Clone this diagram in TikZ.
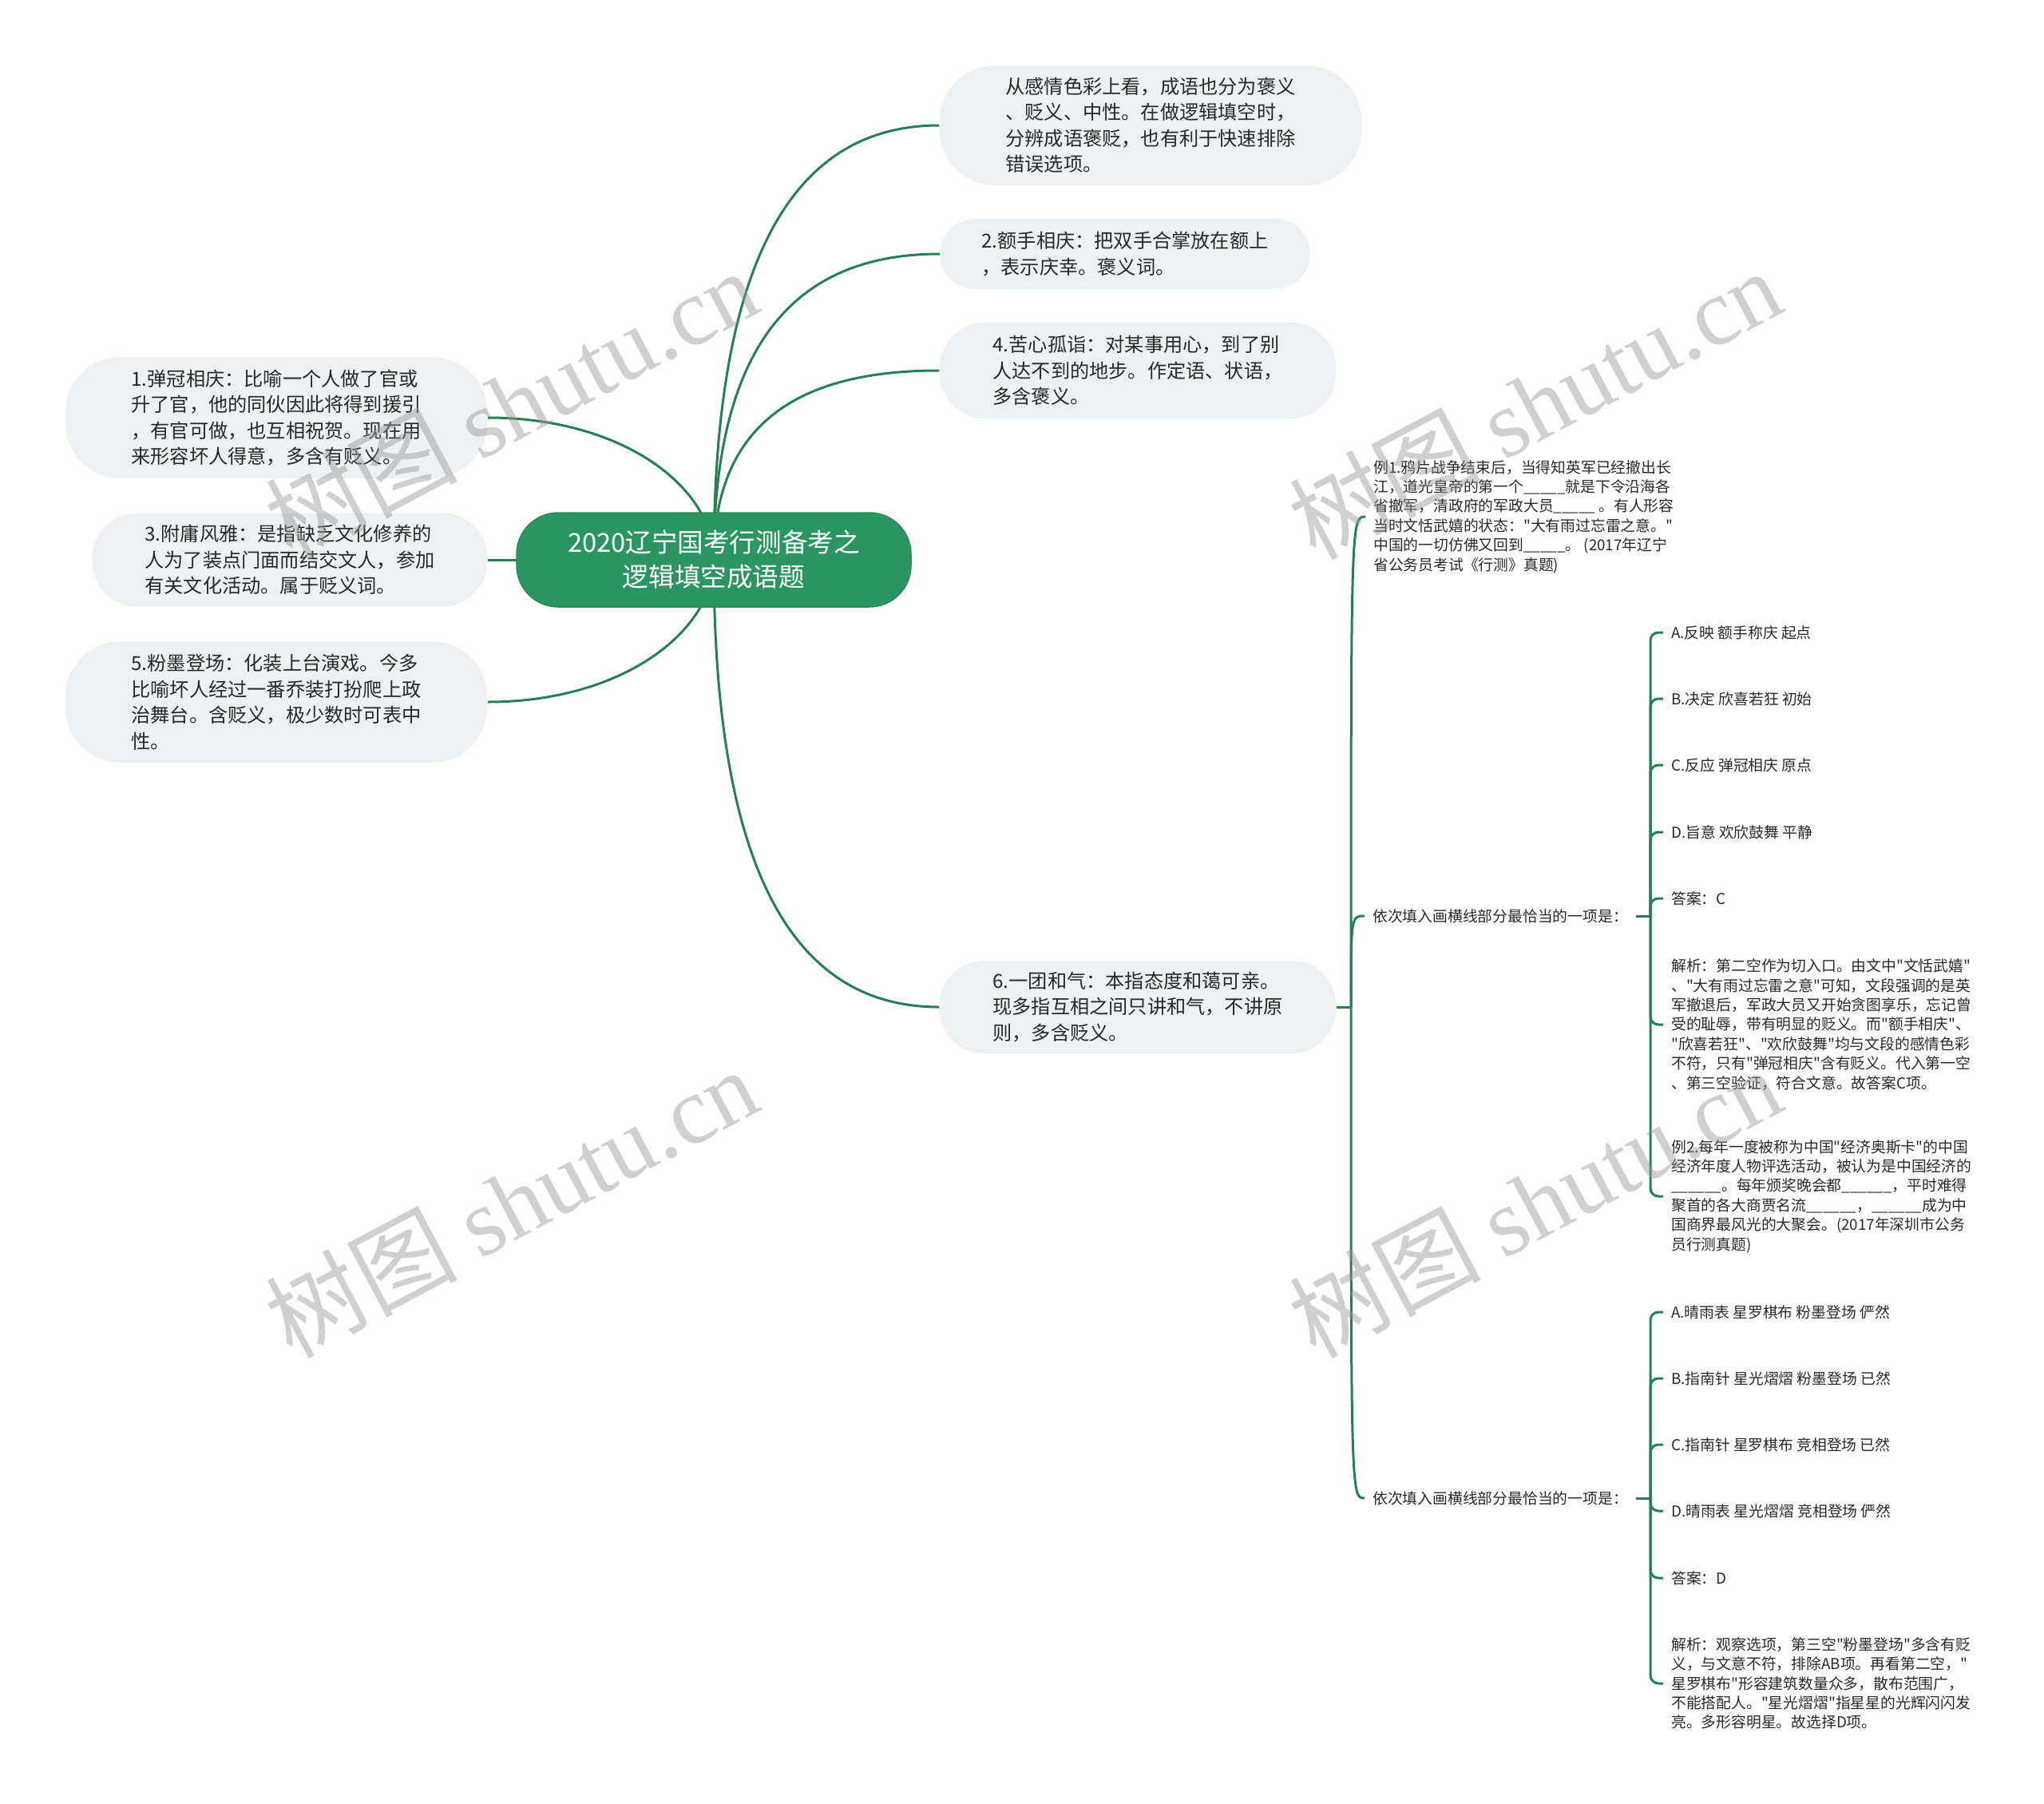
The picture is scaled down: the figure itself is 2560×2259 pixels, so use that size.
\documentclass[tikz,border=0pt]{standalone}
\usepackage{fontspec}
\setmainfont{Noto Sans CJK SC}[Ligatures=TeXOff]
\newfontfamily\wmserif{Liberation Serif}
\pgfdeclarelayer{bg}
\pgfdeclarelayer{fg}
\pgfsetlayers{bg,main,fg}
\definecolor{lineg}{RGB}{38,128,84}
\definecolor{rootg}{RGB}{43,150,98}
\definecolor{boxg}{RGB}{238,241,244}
\definecolor{txt}{RGB}{40,40,40}
\definecolor{wmc}{RGB}{150,150,150}
\begin{document}
\begin{tikzpicture}[x=1pt,y=-1pt,
  rootbox/.style={fill=rootg, draw=rootg!92!black, line width=1.5, rounded corners=52, minimum width=494, minimum height=118, text=white, align=center, font=\fontsize{32.6}{43}\selectfont, inner sep=0},
  topic/.style={fill=boxg, draw=none, text=txt, align=left, font=\fontsize{24.2}{32.5}\selectfont, inner sep=0},
  detail/.style={text=txt, align=left, font=\fontsize{18.8}{24.4}\selectfont, inner xsep=10, inner ysep=2, anchor=west},
  link/.style={draw=lineg, line width=3},
  wmark/.style={text=wmc, opacity=0.45, rotate=28, font=\fontsize{120}{120}\selectfont, inner sep=0}
]
\useasboundingbox (0,0) rectangle (2560,2259);

% root
\node[rootbox] (root) at (894,701) {2020辽宁国考行测备考之\\逻辑填空成语题};

% first level, right
\node[topic, minimum width=529, minimum height=150, rounded corners=70] (nA) at (1441,157)
  {从感情色彩上看，成语也分为褒义\\、贬义、中性。在做逻辑填空时，\\分辨成语褒贬，也有利于快速排除\\错误选项。};
\node[topic, minimum width=464, minimum height=88, rounded corners=44] (nB) at (1409,318)
  {2.额手相庆：把双手合掌放在额上\\，表示庆幸。褒义词。};
\node[topic, minimum width=497, minimum height=121, rounded corners=58] (nC) at (1425,464)
  {4.苦心孤诣：对某事用心，到了别\\人达不到的地步。作定语、状语，\\多含褒义。};
\node[topic, minimum width=497, minimum height=116, rounded corners=56] (n6) at (1425,1261)
  {6.一团和气：本指态度和蔼可亲。\\现多指互相之间只讲和气，不讲原\\则，多含贬义。};

% first level, left
\node[topic, minimum width=529, minimum height=152, rounded corners=70] (n1) at (346,523)
  {1.弹冠相庆：比喻一个人做了官或\\升了官，他的同伙因此将得到援引\\，有官可做，也互相祝贺。现在用\\来形容坏人得意，多含有贬义。};
\node[topic, minimum width=495, minimum height=117, rounded corners=56] (n3) at (363,701)
  {3.附庸风雅：是指缺乏文化修养的\\人为了装点门面而结交文人，参加\\有关文化活动。属于贬义词。};
\node[topic, minimum width=529, minimum height=152, rounded corners=70] (n5) at (346,879)
  {5.粉墨登场：化装上台演戏。今多\\比喻坏人经过一番乔装打扮爬上政\\治舞台。含贬义，极少数时可表中\\性。};

% second level under 6
\node[detail] (e1) at (1710,647)
  {例1.鸦片战争结束后，当得知英军已经撤出长\\江，道光皇帝的第一个\_\_\_\_\_就是下令沿海各\\省撤军，清政府的军政大员\_\_\_\_\_ 。有人形容\\当时文恬武嬉的状态："大有雨过忘雷之意。"\\中国的一切仿佛又回到\_\_\_\_\_。 (2017年辽宁\\省公务员考试《行测》真题)};
\node[detail] (q1) at (1709,1147) {依次填入画横线部分最恰当的一项是：};
\node[detail] (q2) at (1709,1876) {依次填入画横线部分最恰当的一项是：};

% third level, group 1
\node[detail] (a1) at (2083,792) {A.反映 额手称庆 起点};
\node[detail] (b1) at (2083,875) {B.决定 欣喜若狂 初始};
\node[detail] (c1) at (2083,958) {C.反应 弹冠相庆 原点};
\node[detail] (d1) at (2083,1042) {D.旨意 欢欣鼓舞 平静};
\node[detail] (s1) at (2083,1125) {答案：C};
\node[detail] (x1) at (2083,1283)
  {解析：第二空作为切入口。由文中"文恬武嬉"\\、"大有雨过忘雷之意"可知，文段强调的是英\\军撤退后，军政大员又开始贪图享乐，忘记曾\\受的耻辱，带有明显的贬义。而"额手相庆"、\\"欣喜若狂"、"欢欣鼓舞"均与文段的感情色彩\\不符，只有"弹冠相庆"含有贬义。代入第一空\\、第三空验证，符合文意。故答案C项。};
\node[detail] (e2) at (2083,1498)
  {例2.每年一度被称为中国"经济奥斯卡"的中国\\经济年度人物评选活动，被认为是中国经济的\\\_\_\_\_\_\_。每年颁奖晚会都\_\_\_\_\_\_，平时难得\\聚首的各大商贾名流\_\_\_\_\_\_，\_\_\_\_\_\_成为中\\国商界最风光的大聚会。(2017年深圳市公务\\员行测真题)};

% third level, group 2
\node[detail] (a2) at (2083,1643) {A.晴雨表 星罗棋布 粉墨登场 俨然};
\node[detail] (b2) at (2083,1726) {B.指南针 星光熠熠 粉墨登场 已然};
\node[detail] (c2) at (2083,1809) {C.指南针 星罗棋布 竞相登场 已然};
\node[detail] (d2) at (2083,1892) {D.晴雨表 星光熠熠 竞相登场 俨然};
\node[detail] (s2) at (2083,1976) {答案：D};
\node[detail] (x2) at (2083,2108)
  {解析：观察选项，第三空"粉墨登场"多含有贬\\义，与文意不符，排除AB项。再看第二空，"\\星罗棋布"形容建筑数量众多，散布范围广，\\不能搭配人。"星光熠熠"指星星的光辉闪闪发\\亮。多形容明星。故选择D项。};

\coordinate (j6) at (1692,1261);
\coordinate (t1) at (2067,1147);
\coordinate (t2) at (2067,1876);

\begin{pgfonlayer}{bg}
\draw[link] (root.center) .. controls (894,300) and (1007,157) .. (nA.west);
\draw[link] (root.center) .. controls (894,417) and (1007,318) .. (nB.west);
\draw[link] (root.center) .. controls (894,525) and (1007,464) .. (nC.west);
\draw[link] (root.center) .. controls (894,1115) and (1007,1261) .. (n6.west);
\draw[link] (root.center) .. controls (894,610) and (780,523) .. (n1.east);
\draw[link] (root.center) -- (n3.east);
\draw[link] (root.center) .. controls (894,790) and (780,879) .. (n5.east);

\draw[link] (n6.east) -- (j6);
\draw[link] (j6) .. controls (1692,647) .. (e1.west);
\draw[link] (j6) .. controls (1692,1147) .. (q1.west);
\draw[link] (j6) .. controls (1692,1876) .. (q2.west);

\draw[link] (q1.east) -- (t1);
\foreach \n in {a1,b1,c1,d1,s1,x1,e2}
  \draw[link, rounded corners=10] (t1) |- (\n.west);
\draw[link] (q2.east) -- (t2);
\foreach \n in {a2,b2,c2,d2,s2,x2}
  \draw[link, rounded corners=10] (t2) |- (\n.west);
\end{pgfonlayer}

\begin{pgfonlayer}{fg}
\node[wmark] (w1) at (640,505) {树图 {\wmserif shutu.cn}};
\node[wmark] (w2) at (1922,505) {树图 {\wmserif shutu.cn}};
\node[wmark] (w3) at (640,1505) {树图 {\wmserif shutu.cn}};
\node[wmark] (w4) at (1922,1505) {树图 {\wmserif shutu.cn}};
\end{pgfonlayer}
\end{tikzpicture}
\end{document}
